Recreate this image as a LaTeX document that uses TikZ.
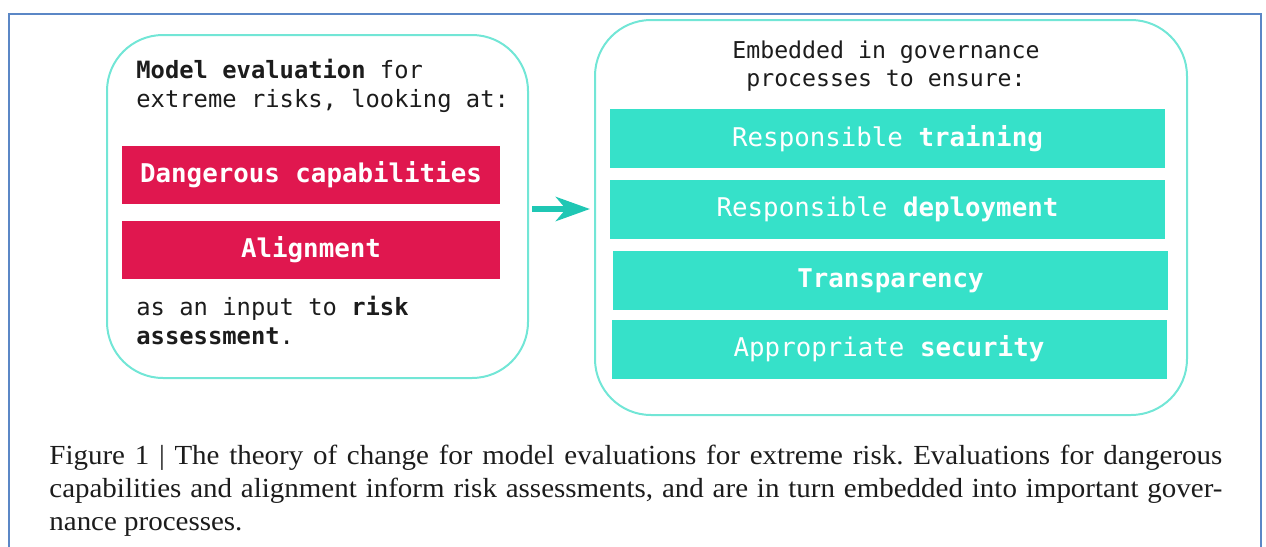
\documentclass[tikz,border=0pt]{standalone}
\usepackage{fontspec}
\usepackage{tikz}
\usetikzlibrary{arrows.meta}

\newfontfamily\monofont{DejaVu Sans Mono}
\newfontfamily\capfont[FakeStretch=1.05]{Liberation Serif}

\definecolor{evalred}{HTML}{E0174F}
\definecolor{govteal}{HTML}{36E1C9}
\definecolor{edgeteal}{HTML}{72E6D6}
\definecolor{arrowteal}{HTML}{1FC7B4}
\definecolor{frameblue}{HTML}{5B87C6}
\definecolor{inktext}{HTML}{1C1C1C}

\begin{document}
\begin{tikzpicture}[x=0.5pt,y=-0.5pt,
  panel/.style={rectangle, draw=edgeteal, line width=1pt, rounded corners=28pt},
  evalitem/.style={rectangle, fill=evalred, text=white, inner sep=0pt,
    minimum width=189pt, minimum height=29pt,
    font=\monofont\bfseries\fontsize{12.9}{15}\selectfont},
  govitem/.style={rectangle, fill=govteal, text=white, inner sep=0pt,
    minimum width=277.5pt, minimum height=29.5pt,
    font=\monofont\fontsize{12.9}{15}\selectfont},
  plain/.style={inner sep=0pt, text=inktext,
    font=\monofont\fontsize{11.9}{14.5}\selectfont},
  flow/.style={arrowteal, line width=3pt,
    -{Stealth[length=17pt, width=12pt, inset=5pt]},
    shorten <=1.5pt, shorten >=2pt}]

\useasboundingbox (0,0) rectangle (1266,547);

% --- outer frame, open at the bottom ---
\draw[frameblue, line width=1pt] (9,547) -- (9,14) -- (1261,14) -- (1261,547);

% --- left panel: evaluations ---
% (base of a two-line node sits on its last line)
\node[panel, minimum width=210.5pt, minimum height=171.5pt] (evalbox) at (317.5,206.5) {};
\node[plain, anchor=base west, align=left] (evaltitle) at (136,107)
  {\textbf{Model evaluation} for\\extreme risks, looking at:};
\node[evalitem] (dangerous) at (311,175) {Dangerous capabilities};
\node[evalitem] (alignment) at (311,250) {Alignment};
\node[plain, anchor=base west, align=left] (evalnote) at (136,344)
  {as an input to \textbf{risk}\\\textbf{assessment}.};

% --- right panel: governance ---
\node[panel, minimum width=296pt, minimum height=197.5pt] (govbox) at (891,217.5) {};
\node[plain, anchor=base, align=center, font=\monofont\fontsize{11.6}{14}\selectfont]
  (govtitle) at (886,86) {Embedded in governance\\processes to ensure:};

% Helper: one governance row: name, x, y, text
\newcommand{\govrow}[4]{%
  \node[govitem] (#1) at (#2,#3) {#4};
}
\govrow{training}{887.5}{138.5}{Responsible \textbf{training}}
\govrow{deployment}{887.5}{209.5}{Responsible \textbf{deployment}}
\govrow{transparency}{890.5}{280.5}{\textbf{Transparency}}
\govrow{security}{889}{349}{Appropriate \textbf{security}}

% --- link between the panels ---
\draw[flow] ([yshift=-1.25pt]evalbox.east) -- ([yshift=-1.25pt]evalbox.east -| govbox.west);

% --- caption ---
\node[inner sep=0pt, anchor=base west, align=left, text=inktext,
  font=\capfont\fontsize{13.8}{16.5}\selectfont\frenchspacing] (caption) at (49,530)
  {\makebox[586.5pt][s]{Figure 1 | The theory of change for model evaluations for extreme risk. Evaluations for dangerous}\\
   \makebox[586.5pt][s]{capabilities and alignment inform risk assessments, and are in turn embedded into important gover-}\\
   nance processes.};

\end{tikzpicture}
\end{document}
